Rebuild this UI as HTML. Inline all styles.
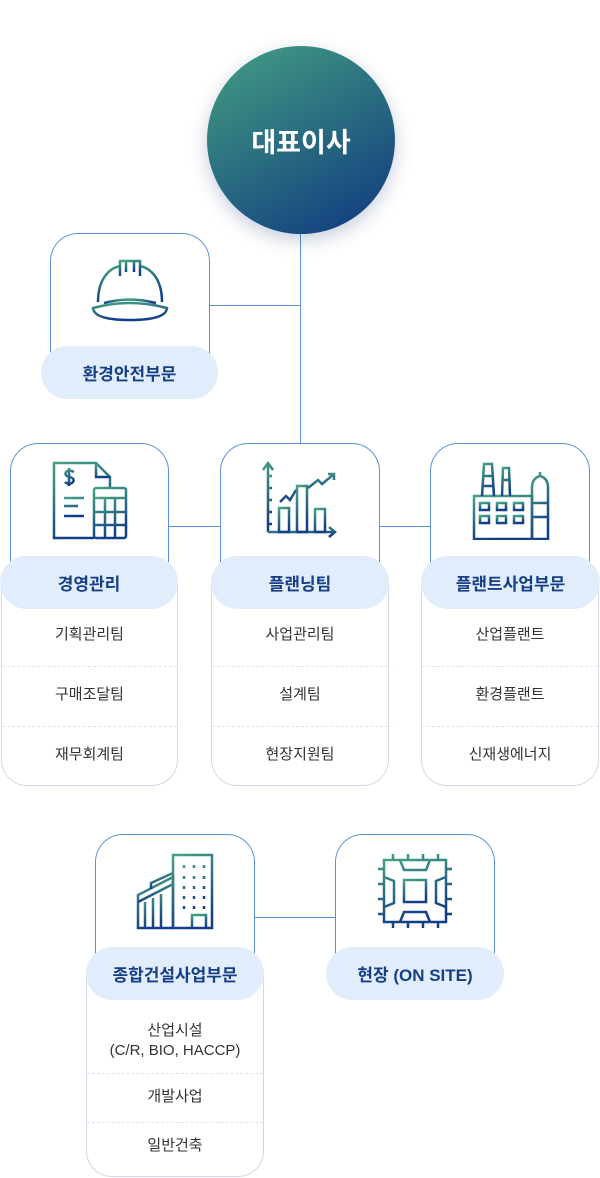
<!DOCTYPE html>
<html><head><meta charset="utf-8">
<style>
*{margin:0;padding:0;box-sizing:border-box}
body{width:600px;height:1178px;background:#fff;position:relative;overflow:hidden;font-family:"Liberation Sans","Noto Sans CJK KR",sans-serif}
.abs{position:absolute}
.card{position:absolute;border:1px solid #5b8ed6;border-bottom:none;border-radius:28px 28px 0 0;background:#fff}
.pill{position:absolute;height:53px;border-radius:27px;background:#e2edfc;color:#163f86;font-weight:bold;font-size:17px;display:flex;align-items:center;justify-content:center;z-index:3}
.list{position:absolute;border:1px solid #cfd9e8;border-top:none;border-radius:0 0 26px 26px;background:#fff;z-index:1}
.item{position:absolute;left:0;right:0;text-align:center;color:#333;font-size:15px;transform:translateY(-50%);line-height:20px}
.sep{position:absolute;left:0;right:0;border-top:1px dashed #dfe4ec}
.ln{position:absolute;background:#5b8ed6}
svg{position:absolute}
</style></head><body>
<svg width="0" height="0" style="position:absolute"><defs>
<linearGradient id="g" x1="0" y1="0" x2="0.3" y2="1"><stop offset="0" stop-color="#45a283"/><stop offset="1" stop-color="#123d88"/></linearGradient>
</defs></svg>

<div class="ln" style="left:300px;top:230px;width:1px;height:214px"></div>
<div class="ln" style="left:209px;top:305px;width:92px;height:1px"></div>
<div class="ln" style="left:168px;top:526px;width:52px;height:1px"></div>
<div class="ln" style="left:379px;top:526px;width:52px;height:1px"></div>
<div class="ln" style="left:254px;top:917px;width:81px;height:1px"></div>

<div class="abs" style="left:207px;top:46px;width:188px;height:188px;border-radius:50%;background:linear-gradient(150deg,#449f82,#0e377f);box-shadow:0 6px 18px rgba(30,60,120,0.25);display:flex;align-items:center;justify-content:center;color:#fff;font-weight:bold;font-size:27px;z-index:2">대표이사</div>

<div class="card" style="left:50px;top:233px;width:160px;height:125px"></div>
<svg style="left:90px;top:258px" width="80" height="66" viewBox="0 0 80 66" fill="none" stroke="url(#g)" stroke-width="2.5">
<path d="M8 44 C8 20 20 10 30 8 M50 8 C60 10 72 20 72 44"/><path d="M30 18 V3 H50 V18"/><path d="M36 3 V14 M44 3 V14"/>
<path d="M3 50 Q40 40 77 50 Q76 62 40 62 Q4 62 3 50Z"/><path d="M14 45 Q40 38 66 45"/></svg>
<div class="pill" style="left:41px;top:346px;width:177px">환경안전부문</div>

<div class="card" style="left:10px;top:443px;width:159px;height:125px"></div>
<div class="card" style="left:220px;top:443px;width:160px;height:125px"></div>
<div class="card" style="left:430px;top:443px;width:160px;height:125px"></div>

<svg style="left:50px;top:460px" width="80" height="80" viewBox="0 0 80 80" fill="none" stroke="url(#g)" stroke-width="2.5">
<path d="M44 78 H4 V3 H46 L60 17 V27"/><path d="M46 3 V17 H60"/><path d="M24 12 Q19 9 16 12 Q14 16 20 17 Q26 19 22 23 Q18 25 15 22 M19 8 V26"/>
<path d="M14 38 H34 M14 46 H28 M14 56 H34"/><rect x="44" y="28" width="32" height="50" rx="2"/><path d="M44 38 H76 M44 52 H76 M44 65 H76 M55 38 V78 M65 38 V78"/></svg>
<svg style="left:260px;top:460px" width="80" height="80" viewBox="0 0 80 80" fill="none" stroke="url(#g)" stroke-width="2.5">
<path d="M8 72 V4 M3 10 L8 3 L13 10"/><path d="M8 16 H12 M8 28 H12 M8 40 H12 M8 52 H12 M8 64 H12"/><path d="M8 72 H74 M69 67 L75 72 L69 77"/>
<rect x="19" y="48" width="10" height="24"/><rect x="37" y="26" width="10" height="46"/><rect x="55" y="49" width="10" height="23"/>
<path d="M20 42 L26 36 L30 40 L36 30 M48 28 L58 20 L62 24 L74 14 M68 14 H74 V20"/></svg>
<svg style="left:470px;top:460px" width="80" height="80" viewBox="0 0 80 80" fill="none" stroke="url(#g)" stroke-width="2.5">
<path d="M4 79 V36 H62 V79 Z"/><path d="M4 70 H62"/><path d="M12 36 L14 4 H22 L24 36 M13 16 H23 M13 26 H23"/><path d="M32 36 L33 8 H39 L40 36 M33 20 H39"/>
<path d="M62 79 V28 Q62 18 70 16 Q78 18 78 28 V79 Z M70 16 V12 M62 43 H78 M62 57 H78"/>
<rect x="10" y="43" width="9" height="7"/><rect x="27" y="43" width="9" height="7"/><rect x="44" y="43" width="9" height="7"/>
<rect x="10" y="56" width="9" height="7"/><rect x="27" y="56" width="9" height="7"/><rect x="44" y="56" width="9" height="7"/></svg>

<div class="pill" style="left:0px;top:556px;width:178px">경영관리</div>
<div class="pill" style="left:211px;top:556px;width:178px">플랜닝팀</div>
<div class="pill" style="left:421px;top:556px;width:179px">플랜트사업부문</div>

<div class="list" style="left:1px;top:580px;width:177px;height:206px">
<div class="item" style="top:55px">기획관리팀</div><div class="sep" style="top:86px"></div>
<div class="item" style="top:115px">구매조달팀</div><div class="sep" style="top:146px"></div>
<div class="item" style="top:175px">재무회계팀</div></div>
<div class="list" style="left:211px;top:580px;width:178px;height:206px">
<div class="item" style="top:55px">사업관리팀</div><div class="sep" style="top:86px"></div>
<div class="item" style="top:115px">설계팀</div><div class="sep" style="top:146px"></div>
<div class="item" style="top:175px">현장지원팀</div></div>
<div class="list" style="left:421px;top:580px;width:178px;height:206px">
<div class="item" style="top:55px">산업플랜트</div><div class="sep" style="top:86px"></div>
<div class="item" style="top:115px">환경플랜트</div><div class="sep" style="top:146px"></div>
<div class="item" style="top:175px">신재생에너지</div></div>

<div class="card" style="left:95px;top:834px;width:160px;height:125px"></div>
<div class="card" style="left:335px;top:834px;width:160px;height:125px"></div>
<svg style="left:135px;top:852px" width="80" height="80" viewBox="0 0 80 80" fill="none" stroke="url(#g)" stroke-width="2.5">
<path d="M3 76 V43 L38 25 V76 Z"/><path d="M3 50 L38 32"/><path d="M10 50 V76 M18 46 V76 M26 42 V76"/><path d="M16 37 V31 L38 21"/>
<path d="M38 76 V3 H77 V76 Z"/><path d="M57 76 V63 H71 V76"/><path d="M49 13 V16 M59 13 V16 M69 13 V16 M49 24 V27 M59 24 V27 M69 24 V27 M49 34 V37 M59 34 V37 M69 34 V37 M49 44 V47 M59 44 V47 M69 44 V47 M49 54 V57 M59 54 V57 M69 54 V57"/></svg>
<svg style="left:377px;top:854px" width="76" height="76" viewBox="0 0 76 76" fill="none" stroke="url(#g)" stroke-width="2.5">
<rect x="7" y="6" width="62" height="62"/><rect x="27" y="26" width="22" height="22"/>
<path d="M23 6 L27 16 H49 L53 6 M23 68 L27 58 H49 L53 68 M7 23 L17 27 V49 L7 53 M69 23 L59 27 V49 L69 53"/>
<path d="M16 0 V6 M31 0 V6 M46 0 V6 M61 0 V6 M16 68 V74 M31 68 V74 M46 68 V74 M61 68 V74 M1 15 H7 M1 30 H7 M1 45 H7 M1 60 H7 M69 15 H75 M69 30 H75 M69 45 H75 M69 60 H75"/></svg>

<div class="pill" style="left:86px;top:947px;width:178px">종합건설사업부문</div>
<div class="pill" style="left:326px;top:947px;width:178px">현장 (ON SITE)</div>

<div class="list" style="left:86px;top:972px;width:178px;height:205px">
<div class="item" style="top:69px">산업시설<br>(C/R, BIO, HACCP)</div><div class="sep" style="top:101px"></div>
<div class="item" style="top:125px">개발사업</div><div class="sep" style="top:150px"></div>
<div class="item" style="top:174px">일반건축</div></div>
</body></html>
